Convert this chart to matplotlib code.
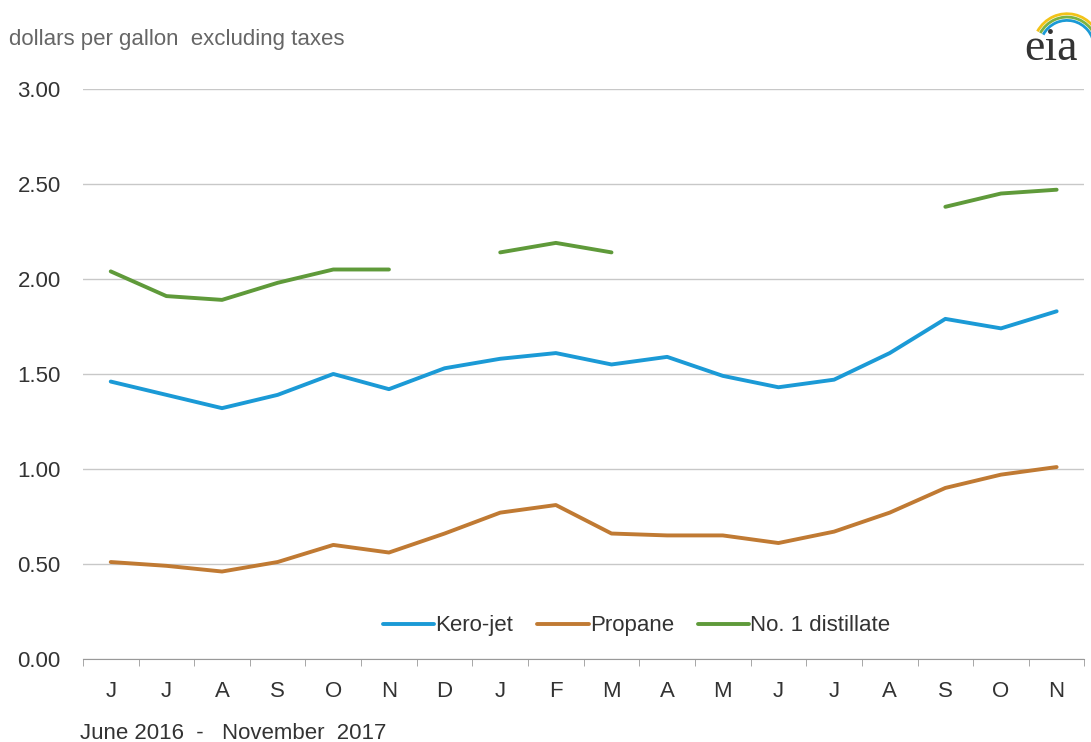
import numpy as np
import matplotlib
matplotlib.use("Agg")
import matplotlib.pyplot as plt
from matplotlib.patches import Arc

months = ["J", "J", "A", "S", "O", "N", "D", "J", "F", "M",
          "A", "M", "J", "J", "A", "S", "O", "N"]
kero_jet = [1.46, 1.39, 1.32, 1.39, 1.50, 1.42, 1.53, 1.58, 1.61, 1.55,
            1.59, 1.49, 1.43, 1.47, 1.61, 1.79, 1.74, 1.83]
propane = [0.51, 0.49, 0.46, 0.51, 0.60, 0.56, 0.66, 0.77, 0.81, 0.66,
           0.65, 0.65, 0.61, 0.67, 0.77, 0.90, 0.97, 1.01]
distillate = [2.04, 1.91, 1.89, 1.98, 2.05, 2.05, np.nan, 2.14, 2.19, 2.14,
              np.nan, np.nan, np.nan, np.nan, np.nan, 2.38, 2.45, 2.47]

plt.rcParams["font.family"] = ["Liberation Sans", "DejaVu Sans"]

fig = plt.figure(figsize=(10.91, 7.42), dpi=100)
ax = fig.add_axes([0.076, 0.112, 0.918, 0.768])

x = np.arange(len(months))
ax.plot(x, kero_jet, color="#1b9ad6", lw=2.8, label="Kero-jet", solid_capstyle="round")
ax.plot(x, propane, color="#c07a33", lw=2.8, label="Propane", solid_capstyle="round")
ax.plot(x, distillate, color="#5f9a3a", lw=2.8, label="No. 1 distillate", solid_capstyle="round")

ax.set_xlim(-0.5, len(months) - 0.5)
ax.set_ylim(0, 3)
ax.set_yticks(np.arange(0, 3.01, 0.5))
ax.set_yticklabels(["%.2f" % v for v in np.arange(0, 3.01, 0.5)])
ax.yaxis.grid(True, color="#c8c8c8", lw=1)
ax.set_axisbelow(True)

ax.set_xticks(x)
ax.set_xticklabels(months)
ax.set_xticks(np.arange(-0.5, len(months), 1), minor=True)
ax.tick_params(axis="x", which="major", length=0, pad=16, labelsize=16, colors="#333333")
ax.tick_params(axis="x", which="minor", length=5, color="#999999")
ax.tick_params(axis="y", length=0, pad=16, labelsize=16, colors="#333333")

for s in ["top", "right", "left"]:
    ax.spines[s].set_visible(False)
ax.spines["bottom"].set_color("#999999")

leg = ax.legend(loc="center", bbox_to_anchor=(0.553, 0.058), ncol=3, frameon=False,
                fontsize=16, handlelength=2.3, handletextpad=0.05, columnspacing=1.1)
for t in leg.get_texts():
    t.set_color("#333333")

fig.text(0.008, 0.947, "dollars per gallon  excluding taxes", fontsize=16,
         color="#666666", va="center", ha="left")
fig.text(0.073, 0.012, "June 2016  -   November  2017", fontsize=16,
         color="#333333", va="center", ha="left")

# eia logo
fig.text(0.963, 0.934, "eia", fontsize=33, family="Liberation Serif",
         color="#333333", ha="center", va="center")
for w, c in [(0.062, "#f2c318"), (0.056, "#7cb342"), (0.050, "#1b9ad6")]:
    fig.add_artist(Arc((0.978, 0.935), w, w * 1.5, theta1=5, theta2=140,
                       transform=fig.transFigure, color=c, lw=2))

fig.savefig("out.png", dpi=100)
